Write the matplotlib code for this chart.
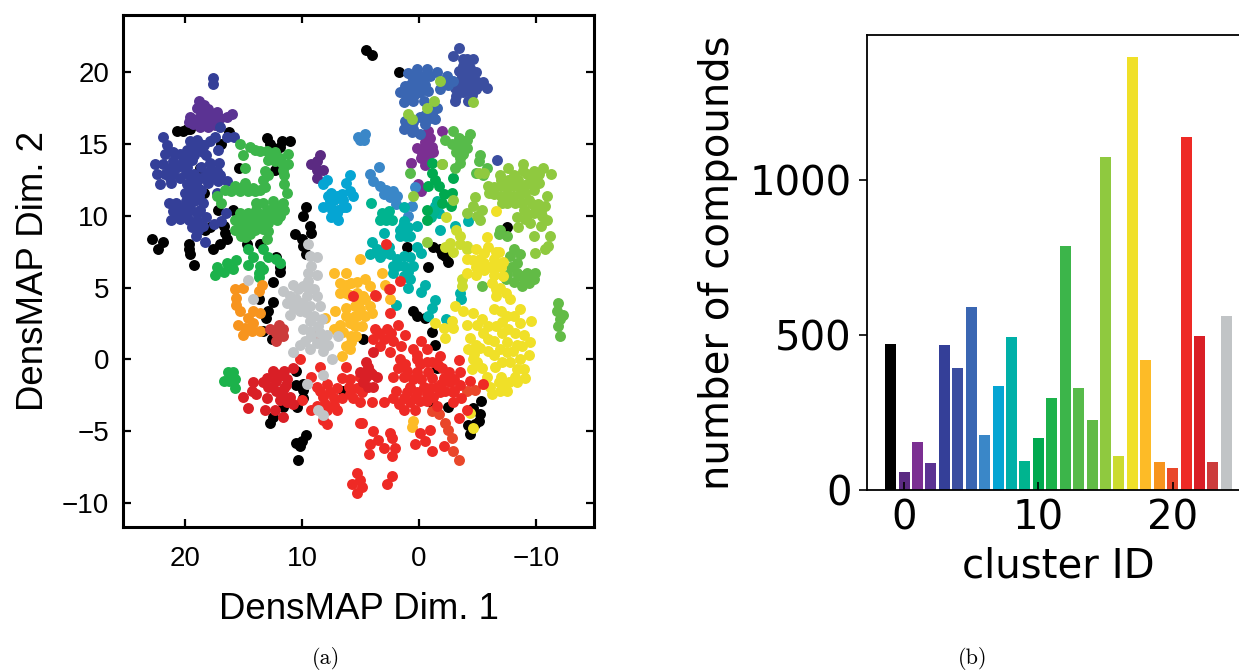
import matplotlib
matplotlib.use('Agg')
import matplotlib.pyplot as plt

# scatter clusters, (DensMAP 1, DensMAP 2)
noise = [(20.7,15.9),(20.2,15.9),(19.8,16.0),(19.6,16.0),(13.0,15.4),(12.7,15.0),(12.5,14.7),(11.7,15.2),(11.9,14.8),(11.0,15.2),
         (12.3,13.2),(15.4,13.3),(18.7,13.3),(16.9,15.0),(16.2,15.8),(17.2,10.4),(15.9,10.4),(18.4,11.6),(9.7,10.6),(9.9,10.0),
         (9.3,9.3),(9.2,8.8),(10.6,8.7),(10.0,8.4),(9.9,7.9),(9.7,7.3),(22.8,8.4),(21.9,8.2),(22.3,7.7),(19.7,8.0),(19.7,7.7),
         (19.6,7.3),(19.2,6.6),(18.3,9.0),(17.9,9.2),(16.7,9.3),(16.6,8.8),(16.4,8.4),(17.0,8.0),(17.6,7.7),(14.7,8.0),(13.6,8.0),
         (12.2,7.1),(11.9,6.4),(4.5,21.5),(4.0,21.2),(1.7,20.0),(1.0,7.8),(-1.2,7.8),(-1.8,7.7),(-2.2,7.2),(-2.5,6.8),(-2.0,7.3),
         (-0.8,6.4),(-7.5,9.2),(12.5,5.4),(13.7,4.2),(12.5,4.0),(12.9,3.4),(13.1,2.9),(13.3,2.0),(12.6,1.4),(10.5,-0.8),(10.5,-1.8),
         (9.9,-1.7),(9.9,-2.1),(9.9,-2.7),(10.4,-3.3),(11.6,-3.3),(12.5,-4.0),(12.7,-4.4),(9.7,-5.3),(10.0,-5.7),(10.5,-5.8),
         (10.2,-6.0),(10.3,-7.0),(6.5,-2.2),(11.9,6.1),(0.5,3.4),(0.2,3.0),(-0.5,2.9),(-1.1,1.9),(-1.4,1.0),(-1.5,-0.6),(4.8,1.4),
         (-5.3,-2.9),(-4.6,-3.4),(-5.2,-3.8),(-5.1,-4.3),(-4.2,-4.6),(-4.4,-5.2),(-4.8,-4.5),(-1.2,-3.1),(-2.5,-3.3)]
c0 = [(8.7,13.8),(8.5,14.2),(9.2,13.6),(8.7,13.2),(8.2,13.2),(8.7,12.6)]
c1 = [(-0.8,15.9),(-0.9,15.4),(-0.5,15.1),(-1.1,14.8),(0.2,14.7),(-0.4,14.5),(-1.2,14.4),(-0.2,14.0),(-0.8,13.9),(-0.5,13.5),
      (-2.0,15.9),(0.7,13.7),(0.1,12.2),(-0.2,11.7),(-0.6,15.5),(-0.7,14.9),(-0.3,14.2),(-0.6,14.4)]
c2 = [(18.8,18.0),(18.4,17.7),(18.95,17.5),(18.6,17.2),(18.0,17.4),(17.3,17.2),(19.6,16.9),(19.7,16.5),(19.0,16.7),(18.3,16.7),
      (17.6,16.7),(18.7,16.2),(18.0,16.2),(17.0,16.8),(16.0,17.1),(16.4,16.9),(18.4,17.3),(17.9,16.9),(18.7,16.8),(19.3,16.4),(17.4,16.3)]
c3 = [(17.6,19.6),(17.6,19.2),(21.9,15.5),(21.5,14.9),(21.7,14.3),(20.4,14.3),(19.6,15.2),(19.0,15.3),(18.4,14.9),(19.8,14.6),
      (19.0,14.6),(18.2,14.2),(22.6,13.6),(21.9,13.6),(21.0,13.8),(20.2,13.8),(19.4,13.9),(17.9,13.7),(17.1,13.7),(22.4,12.9),
      (21.7,12.9),(21.0,13.0),(19.9,13.0),(19.2,12.9),(18.1,13.0),(17.3,13.1),(22.1,12.2),(21.2,12.3),(19.8,12.2),(19.1,12.3),
      (18.0,12.3),(17.2,12.4),(16.4,12.4),(20.0,11.6),(19.3,11.6),(18.6,11.8),(17.3,11.6),(19.9,11.0),(19.2,11.0),(18.5,10.9),
      (21.4,10.9),(20.8,10.9),(21.0,10.3),(20.2,10.4),(19.5,10.4),(18.7,10.4),(16.5,10.2),(21.2,9.7),(20.4,9.8),(19.7,9.7),
      (19.0,9.6),(18.2,9.9),(17.5,9.4),(16.9,9.6),(18.9,9.0),(19.1,8.6),(18.3,8.2),(17.4,15.5),(17.9,15.2),(16.4,15.5),(15.8,15.5),
      (17.0,16.2),(17.2,14.6),(21.3,13.3),(20.6,13.4),(19.8,13.4),(18.6,13.4),(21.3,12.6),(20.4,12.6),(19.5,12.6),(18.6,12.6),
      (17.7,12.7),(19.6,11.9),(18.9,11.9),(19.6,11.3),(18.8,11.4),(20.6,10.6),(19.8,10.7),(19.0,10.2),(20.6,10.0),(19.9,10.1),
      (21.0,14.4),(20.0,14.1),(19.2,14.2),(18.5,14.4),(19.4,15.0),(18.7,15.0),(19.4,9.2),(18.5,9.3),(17.8,13.2),(17.0,12.8)]
c4 = [(-3.4,21.7),(-2.9,21.1),(-4.1,20.9),(-4.6,20.9),(-3.8,20.4),(-4.4,20.3),(-3.4,20.1),(-4.9,20.0),(-4.1,19.8),(-4.9,19.4),
      (-5.5,19.3),(-5.8,18.9),(-3.5,19.4),(-4.2,19.1),(-4.9,18.8),(-3.1,18.9),(-3.2,18.3),(-3.8,18.6),(-4.5,18.4),(-3.1,18.0),
      (-4.2,18.0),(-6.7,13.9),(-3.8,20.9),(-4.2,20.0),(-3.7,19.7),(-4.4,19.5),(-3.6,18.9),(-4.5,18.9),(-5.2,19.1)]
c5 = [(0.2,20.2),(-0.7,20.2),(-1.5,20.0),(0.6,19.7),(-0.2,19.7),(-0.9,19.7),(-2.4,19.7),(1.2,19.0),(0.3,19.1),(-0.5,19.1),
      (-1.8,18.8),(-2.5,19.1),(-2.9,19.4),(1.6,18.6),(0.8,18.6),(-0.1,18.6),(-0.8,18.7),(1.3,17.9),(0.5,18.0),(-0.4,18.0),
      (-0.8,17.4),(-1.5,17.5),(-0.1,16.9),(-0.9,16.8),(1.2,16.6),(0.5,16.5),(-0.5,16.4),(-1.4,16.7),(1.3,16.0),(0.6,15.8),(-0.1,15.7),
      (0.9,19.9),(0.0,19.6),(0.7,19.2),(-0.4,19.5),(-0.2,19.0),(1.1,18.4),(0.3,18.5),(0.8,18.1),(-0.5,17.0),(0.5,16.0),(1.0,16.6),(-1.1,17.1)]
c6 = [(4.6,15.7),(5.0,15.3),(4.7,15.3),(5.2,15.5),(3.4,13.4),(4.2,12.9),(3.9,12.4),(3.3,12.1),(2.8,11.8),(2.2,11.7),(3.0,11.5),
      (2.5,11.3),(1.9,11.4),(2.0,10.8),(0.6,10.7),(0.9,10.0),(0.3,12.0)]
c7 = [(7.9,12.5),(8.2,12.2),(5.9,12.8),(6.2,12.3),(5.9,11.7),(7.8,11.4),(7.0,11.4),(6.5,11.1),(5.6,11.4),(8.2,10.6),(7.6,10.7),
      (6.9,10.4),(6.2,10.6),(7.5,9.9),(6.9,9.7),(7.0,10.2),(7.6,11.0),(7.4,10.4),(6.5,10.6),(7.2,10.0),(6.6,11.5),(7.3,11.1),(7.5,11.6)]
c8 = [(1.3,10.6),(1.3,9.6),(0.9,9.2),(1.6,9.0),(0.2,9.3),(1.1,8.6),(1.6,8.6),(3.0,8.8),(4.0,8.2),(3.6,7.7),(4.2,7.3),(3.3,7.1),
      (2.5,7.3),(1.9,7.0),(1.3,6.5),(2.2,6.5),(0.2,7.8),(-0.2,7.4),(0.8,7.1),(0.5,6.5),(-1.4,10.7),(-1.7,10.2),(-4.2,9.6),(-1.8,9.0),
      (-3.1,9.3),(2.2,6.0),(1.3,5.8),(0.8,5.6),(0.9,5.0),(-0.5,5.2),(-0.2,4.7),(2.0,3.8),(-3.6,4.2),(-3.5,4.6),(-1.4,4.1),(-1.1,3.6),
      (-0.8,3.0),(-2.3,2.8),(0.8,8.6),(1.4,9.3),(3.0,7.4),(3.5,7.4),(2.6,7.8),(1.3,7.2),(1.9,6.5),(0.9,6.1)]
c9 = [(4.1,10.9),(3.2,10.2),(2.6,10.3),(3.3,9.7),(2.8,9.7),(2.3,9.7),(-1.5,11.0),(-1.3,10.3),(-1.0,9.9)]
c10 = [(-1.1,13.7),(-1.1,13.0),(-1.4,12.5),(-0.8,12.1),(-1.7,12.1),(-2.1,11.5),(-2.8,11.6),(-2.0,10.9),(-2.7,10.7),(-0.7,10.4),
       (-0.7,9.7),(-2.9,12.6)]
c11 = [(16.3,-0.9),(15.9,-0.9),(15.7,-1.4),(16.7,-1.5),(16.2,-1.5),(15.7,-2.0),(17.3,6.4),(16.4,6.7),(15.6,6.9),(14.6,7.7),(14.2,7.1),
       (13.3,7.7),(12.9,7.1),(13.6,6.5),(14.6,6.6),(12.2,7.0),(11.9,6.7),(17.4,5.9),(16.7,6.1),(15.9,6.3),(13.7,6.0),(13.3,6.3),(13.7,5.7)]
c12 = [(15.3,15.0),(14.45,14.8),(13.6,14.5),(12.75,14.2),(11.9,14.0),(11.2,14.3),(11.2,13.6),(12.3,13.8),(11.6,13.2),(11.5,12.8),
       (11.5,12.2),(11.3,11.6),(11.6,10.9),(11.6,10.4),(15.0,14.2),(14.9,13.3),(13.2,13.1),(13.3,12.5),(12.9,12.8),(13.2,12.0),(13.6,11.8),
       (14.9,12.3),(15.7,12.1),(15.3,11.7),(14.6,11.7),(16.6,11.8),(14.0,11.7),(17.3,11.4),(16.9,10.9),(13.3,10.9),(12.5,11.0),(13.9,10.4),
       (13.0,10.4),(12.2,10.2),(11.5,10.4),(15.3,10.2),(14.6,10.2),(15.7,9.7),(15.0,9.7),(14.2,9.7),(13.3,9.7),(12.6,9.9),(11.9,10.0),
       (15.7,9.0),(15.0,9.2),(14.3,9.3),(13.6,9.3),(12.9,9.5),(15.2,8.6),(14.45,8.7),(12.9,8.9),(13.0,8.4),(14.9,8.5),
       (14.0,14.6),(13.0,14.5),(12.3,14.4),(11.7,13.7),(12.9,13.9),(14.2,11.9),(15.0,12.0),(13.9,10.9),(12.2,10.7),(12.6,10.5),(14.9,9.9),
       (14.0,9.9),(13.6,10.1),(12.9,10.1),(15.3,9.4),(14.6,9.4),(14.0,9.0),(13.3,9.1),(14.6,9.0),(15.3,8.8),(12.1,9.7),(16.1,11.7)]
c13 = [(-2.9,15.9),(-4.4,15.7),(-2.2,15.3),(-3.4,15.4),(-4.1,15.3),(-2.8,15.0),(-3.65,14.8),(-4.1,14.7),(-3.2,14.4),(-3.8,14.3),
       (-3.5,13.7),(-3.1,13.3),(-2.0,13.6),(-5.2,14.2),(-5.1,13.8),(-4.9,13.0),(-5.8,13.3),(-5.5,12.8),(0.8,13.0),(-3.2,15.0),(-3.5,15.1),
       (-3.6,14.4),(-3.5,14.0)]
c14 = [(-6.9,9.0),(-7.5,8.6),(-6.8,8.7),(-8.1,7.7),(-8.6,7.3),(-7.8,7.2),(-8.35,6.7),(-7.9,6.4),(-7.5,5.9),(-8.35,6.0),(-9.2,6.0),
       (-9.9,6.0),(-8.1,5.4),(-9.0,5.6),(-9.8,5.6),(-8.8,5.1),(-7.4,5.6),(-5.4,5.1),(-11.9,3.9),(-11.8,3.4),(-12.3,3.1),(-12.05,2.8),
       (-11.9,2.3),(-12.05,1.6),(-8.8,5.8),(-9.4,5.3)]
c15 = [(-7.6,13.3),(-8.9,13.6),(-10.6,13.3),(-11.3,12.9),(-6.9,12.8),(-8.1,12.8),(-9.2,12.9),(-10.3,12.9),(-5.9,12.1),(-6.9,12.1),
       (-8.1,12.1),(-9.2,12.2),(-10.3,12.3),(-6.4,11.5),(-7.5,11.5),(-8.6,11.5),(-9.8,11.8),(-10.9,11.4),(-4.8,11.3),(-7.1,10.9),
       (-8.2,10.9),(-9.4,11.1),(-10.2,10.8),(-4.65,10.7),(-5.4,10.4),(-9.0,10.4),(-9.8,10.2),(-10.8,10.7),(-5.2,9.7),(-8.35,9.9),
       (-9.5,9.5),(-10.5,10.0),(-10.9,9.7),(-8.5,9.2),(-11.2,8.6),(-10.8,7.7),(-9.8,8.6),(-9.9,7.4),(-11.05,7.9),(-5.1,13.0),(-5.6,13.0),
       (-1.8,19.4),(-1.3,18.0),(-0.7,17.5),(0.9,17.1),(0.6,16.7),(-4.6,17.9),(0.5,11.4),(-2.9,11.1),(-2.0,13.6),(-0.7,8.2),(-4.1,10.2),
       (-7.0,12.5),(-7.6,12.5),(-8.5,12.5),(-9.7,12.5),(-8.9,13.1),(-9.8,13.1),(-6.4,12.0),(-7.5,12.0),(-8.6,12.0),(-9.6,12.3),(-6.0,11.6),
       (-7.0,11.4),(-8.0,11.4),(-9.1,11.6),(-7.5,10.9),(-8.8,10.9),(-9.7,10.8),(-10.4,10.3),(-10.4,9.3),(-9.1,9.8),(-9.3,10.1),(-5.0,10.0)]
c16 = [(-3.2,9.0),(-3.5,8.6),(-2.65,8.1),(-3.5,8.0),(-4.1,7.9),(-2.2,7.8),(-2.9,7.5),(-4.1,7.7),(-2.3,9.9),(-3.65,5.6),(-3.65,5.1)]
c17 = [(-5.8,8.5),(-4.9,7.7),(-5.9,7.8),(-6.8,7.5),(-4.1,7.0),(-5.2,7.0),(-6.4,7.0),(-7.2,6.8),(-4.9,6.4),(-6.1,6.4),(-7.0,6.4),(-6.6,10.3),
       (-4.1,6.0),(-4.9,5.9),(-6.4,5.9),(-7.2,5.8),(-6.2,5.3),(-7.4,4.6),(-6.6,4.4),(-7.8,4.2),(-3.1,3.7),(-1.4,2.5),(-2.1,2.2),(-2.2,1.5),
       (-2.8,2.7),(-3.8,3.4),(-4.65,3.2),(-8.6,3.5),(-9.6,2.7),(-4.1,2.4),(-5.4,2.8),(-6.4,3.5),(-7.5,3.0),(-8.6,2.5),(-4.4,1.5),(-5.5,1.8),
       (-6.6,2.3),(-7.6,2.1),(-9.0,1.7),(-9.5,1.2),(-4.2,0.7),(-5.2,0.8),(-6.4,1.3),(-7.5,1.2),(-8.35,1.0),(-4.65,0.0),(-6.4,0.3),(-7.5,0.5),
       (-9.4,0.3),(-8.6,0.0),(-4.5,-0.7),(-5.4,-0.6),(-6.5,-0.5),(-7.8,-0.2),(-9.0,-0.7),(-5.8,-1.2),(-7.0,-1.2),(-8.2,-1.2),(-9.1,-1.3),
       (-6.1,-1.9),(-7.2,-1.9),(-8.35,-1.6),(-6.2,-2.4),(-7.5,-2.2),(-4.4,-3.7),(-4.65,-4.8),
       (-4.9,1.0),(-5.9,1.4),(-7.1,1.8),(-8.2,1.8),(-4.7,0.4),(-5.9,0.6),(-6.9,0.7),(-8.0,0.6),(-8.8,0.9),(-5.9,2.3),(-7.1,2.6),(-8.1,3.0),
       (-7.0,3.4),(-5.0,2.4),(-5.0,-0.2),(-7.1,-0.2),(-8.4,-0.7),(-6.8,-1.6),(-7.7,-1.6),(-5.5,-1.7),(-6.9,-2.2),(-5.6,7.4),(-5.6,6.7),
       (-6.6,7.5),(-5.6,6.2),(-6.6,6.4),(-4.6,6.9),(-2.9,2.2),(-6.9,5.0),(-6.6,4.9)]
c18 = [(7.3,6.0),(6.2,6.0),(6.75,5.3),(5.8,5.3),(6.75,4.6),(5.9,4.5),(5.5,3.7),(6.2,3.6),(8.0,2.9),(7.2,3.4),(6.75,2.4),(7.3,2.1),(5.9,2.5),
       (6.5,1.9),(5.8,1.6),(6.2,0.9),(5.9,0.7),(6.6,0.2),(5.3,3.0),(4.6,5.6),(4.2,5.1),(4.8,4.4),(4.2,3.7),(4.6,3.0),(4.9,2.3),(4.0,3.2),
       (3.2,6.0),(2.9,5.2),(2.5,4.2),(0.5,-4.3),(0.6,-4.7),(5.0,7.0),(6.2,5.2),(5.3,5.4),(6.2,4.6),(5.3,4.6),(5.1,4.0),(4.6,4.2),(5.5,3.0),
       (6.2,3.0),(5.5,2.3),(5.4,1.6),(5.8,1.2),(5.0,3.5)]
c19 = [(15.7,4.9),(15.0,5.0),(15.6,4.3),(15.6,3.8),(15.3,3.4),(13.45,5.2),(13.7,4.75),(14.2,3.4),(13.6,3.2),(14.6,2.9),(14.2,2.55),
       (15.45,2.4),(14.9,2.2),(14.3,2.0),(13.6,2.0),(15.0,1.7)]
c20 = [(-4.1,-2.2),(-4.8,-2.1),(-2.2,-4.4),(-2.5,-4.9),(-2.8,-5.5),(-2.9,-6.4),(-3.45,-7.0),(-1.1,-3.6),(-1.7,-3.8),(3.7,4.4),(2.6,4.9)]
c21 = [(8.5,-0.5),(9.2,-1.2),(8.75,-1.9),(7.9,-1.75),(7.0,-2.0),(8.2,-2.6),(7.3,-2.7),(6.6,-2.7),(8.75,-3.25),(7.9,-3.5),(7.0,-3.5),(8.2,-4.2),
       (7.9,-4.5),(6.2,-0.5),(5.9,-1.4),(5.05,-1.2),(5.6,-2.7),(5.05,-3.0),(10.0,-2.8),(10.2,0.0),(5.05,-4.4),(6.6,-1.3),(9.2,-3.5),(5.3,-7.9),
       (5.76,-8.7),(5.3,-9.3),(5.05,-8.4),(5.6,4.4),(8.6,1.7),(3.76,2.1),(2.76,2.1),(1.76,2.4),(3.9,1.4),(3.0,1.4),(2.2,1.3),(1.5,0.9),(1.2,1.7),
       (2.5,0.5),(1.6,0.0),(-0.2,1.3),(0.5,0.7),(-0.66,0.7),(-1.8,0.2),(1.2,-0.35),(0.2,0.0),(-1.1,-0.2),(-3.4,-0.05),(2.2,-1.2),(1.3,-1.2),
       (0.2,-0.9),(-0.8,-0.9),(-2.1,-1.3),(-3.5,-0.9),(0.8,-1.9),(-0.4,-1.9),(-1.5,-1.9),(-2.65,-1.6),(-4.4,-1.5),(2.2,-2.7),(1.3,-2.7),(0.34,-2.7),
       (-0.66,-2.4),(-1.8,-2.3),(-2.9,-2.3),(4.04,-3.0),(3.0,-3.0),(1.3,-3.5),(0.34,-3.5),(-1.5,-3.25),(-2.9,-3.0),(-3.4,-4.1),(-4.1,-3.5),
       (4.9,-4.4),(3.9,-5.0),(2.5,-5.1),(3.5,-5.6),(2.3,-5.5),(4.2,-5.9),(3.0,-6.15),(4.3,-6.6),(2.05,-6.15),(2.3,-6.7),(-0.1,-5.1),(-0.94,-4.9),
       (0.34,-5.9),(-0.5,-5.7),(-1.1,-6.4),(-2.14,-6.0),(2.3,-8.1),(2.76,-8.7),(4.9,-8.9),(1.6,5.45),(2.5,4.9),(3.76,4.45),(2.5,3.2),(-5.5,-1.75),
       (2.8,8.0),(-0.7,-2.9),(-3.6,-2.7),(3.4,1.8),(2.4,1.8),(3.3,0.9),(0.2,0.3),(-0.1,-0.3),(-0.7,-0.2),(-1.6,-0.4),(-2.0,-0.6),(1.8,-0.6),
       (1.0,-0.8),(0.5,-1.4),(-0.2,-1.4),(-1.1,-1.3),(-1.9,-1.7),(-2.6,-0.9),(-3.0,-1.4),(-3.5,-1.8),(-2.2,-2.2),(-0.9,-2.0),(0.2,-2.3),(1.0,-2.3),
       (2.0,-2.2),(-0.1,-2.9),(0.8,-3.0),(1.7,-3.1),(-1.2,-2.6),(-3.0,-2.2),(8.5,-2.2),(7.6,-2.3),(8.0,-3.1),(7.3,-3.2),(6.0,-1.9),(5.3,-2.0),
       (5.9,-2.4),(4.9,-2.3)]
c22 = [(4.5,-0.2),(3.9,0.5),(4.2,-0.9),(3.6,-1.2),(3.9,-1.9),(4.8,-1.6),(5.0,-0.9),(14.2,-1.6),(14.3,-2.2),(15.0,-2.6),(14.6,-3.4),(13.9,-2.4),
       (13.0,-2.7),(13.2,-3.5),(12.3,-3.5),(11.6,-4.0),(12.5,-0.8),(11.5,-0.8),(10.75,-0.6),(13.0,-1.3),(12.2,-1.5),(11.3,-1.4),(12.2,-2.2),
       (11.5,-2.0),(11.0,-2.6),(11.9,-2.8),(10.75,-3.1),(13.3,-1.6),(12.6,-1.9),(12.2,-1.0),(11.7,-1.1),(12.9,-1.9),(11.7,-2.4),(11.3,-3.0),
       (11.4,-1.8),(4.5,-1.2),(4.0,-1.0),(4.4,-1.9),(4.4,-0.5)]
c23 = [(12.0,2.4),(11.6,2.1),(12.7,2.1),(12.2,1.85),(11.6,1.6),(12.2,1.3)]
c24 = [(14.6,5.5),(14.2,4.2),(9.5,6.0),(10.75,5.2),(11.6,4.75),(9.9,5.1),(8.75,5.9),(9.5,5.45),(11.3,3.9),(10.5,4.2),(9.6,4.4),(8.75,4.4),(11.0,3.1),
       (10.2,3.4),(9.3,3.7),(8.5,3.7),(9.0,3.0),(8.3,2.8),(9.9,2.1),(8.5,1.85),(7.9,1.7),(6.9,1.6),(9.75,1.3),(8.75,1.15),(7.75,1.0),(10.75,0.5),
       (9.3,0.7),(8.2,0.6),(7.4,0.0),(8.2,-1.1),(9.6,-1.75),(8.6,-3.5),(8.2,-3.9),(9.5,8.0),(9.3,7.2),(8.75,7.1),(9.2,6.5),(11.0,4.4),(10.3,4.9),
       (10.0,3.9),(9.4,4.9),(9.0,4.9),(10.7,3.6),(9.7,3.3),(9.3,2.7),(9.3,2.0),(9.2,1.6),(10.2,1.0),(8.6,2.3),(8.3,1.2)]
clusters = [noise, c0, c1, c2, c3, c4, c5, c6, c7, c8, c9, c10, c11, c12, c13, c14, c15, c16, c17, c18, c19, c20, c21, c22, c23, c24]

# panel (b)
cluster_ids = list(range(-1, 25))
counts = [471, 58, 156, 86, 468, 395, 589, 178, 334, 495, 94, 168, 297, 787, 328, 227, 1073, 110, 1396, 421, 89, 70, 1138, 496, 91, 563]
colors = ['#000000', '#5b2a82', '#7b2f92', '#5b3393', '#343f98', '#3b4ea0', '#3a66b2', '#3a87c8', '#05a5d3', '#00b0a8', '#00b48f',
          '#00a94f', '#1cb24b', '#3cb54a', '#57bb4a', '#62bb46', '#8fc93f', '#cbdb2f', '#f0e028', '#fdbb27', '#f7941e', '#e9472a',
          '#ee2a25', '#d91f26', '#cc3b3b', '#c1c4c6']

W, H = 1239, 670
fig = plt.figure(figsize=(W / 100, H / 100), dpi=100)

# (a)
ax = fig.add_axes([123 / W, 1 - 527 / H, 471 / W, 512 / H])
for pts, col in zip(clusters, colors):
    ax.scatter([p[0] for p in pts], [p[1] for p in pts], s=62, color=col, linewidths=0)
ax.set_xlim(25.3, -14.96)
ax.set_ylim(-11.67, 23.97)
ax.set_xticks([20, 10, 0, -10])
ax.set_yticks([-10, -5, 0, 5, 10, 15, 20])
ax.tick_params(direction='in', top=True, right=True, length=5.5, width=1.6, labelsize=20)
ax.tick_params(axis='x', pad=14)
ax.tick_params(axis='y', pad=10)
for s in ax.spines.values():
    s.set_linewidth(2.2)
for t in ax.get_xticklabels() + ax.get_yticklabels():
    t.set_family('Liberation Sans')
ax.set_xlabel('DensMAP Dim. 1', family='Liberation Sans', fontsize=26.4, labelpad=14)
ax.set_ylabel('DensMAP Dim. 2', family='Liberation Sans', fontsize=26.4, labelpad=8)

# (b)
ax2 = fig.add_axes([867 / W, 1 - 490 / H, 383 / W, 455 / H])
ax2.bar(cluster_ids, counts, width=0.82, color=colors)
ax2.set_xlim(-2.76, 25.76)
ax2.set_ylim(0, 1468)
ax2.set_xticks([0, 10, 20])
ax2.set_yticks([0, 500, 1000])
ax2.tick_params(axis='x', direction='in', length=6, width=1.2, labelsize=29, pad=6)
ax2.tick_params(axis='y', direction='out', length=6, width=1.2, labelsize=29, pad=5)
ax2.spines['right'].set_visible(False)
for s in ax2.spines.values():
    s.set_linewidth(1.3)
ax2.set_xlabel('cluster ID', fontsize=29, labelpad=6)
ax2.set_ylabel('number of compounds', fontsize=29, labelpad=8)

fig.text(326 / W, 1 - 658 / H, '(a)', family='cmr10', fontsize=16, ha='center', va='center')
fig.text(973 / W, 1 - 658 / H, '(b)', family='cmr10', fontsize=16, ha='center', va='center')

fig.savefig('out.png', dpi=100)
